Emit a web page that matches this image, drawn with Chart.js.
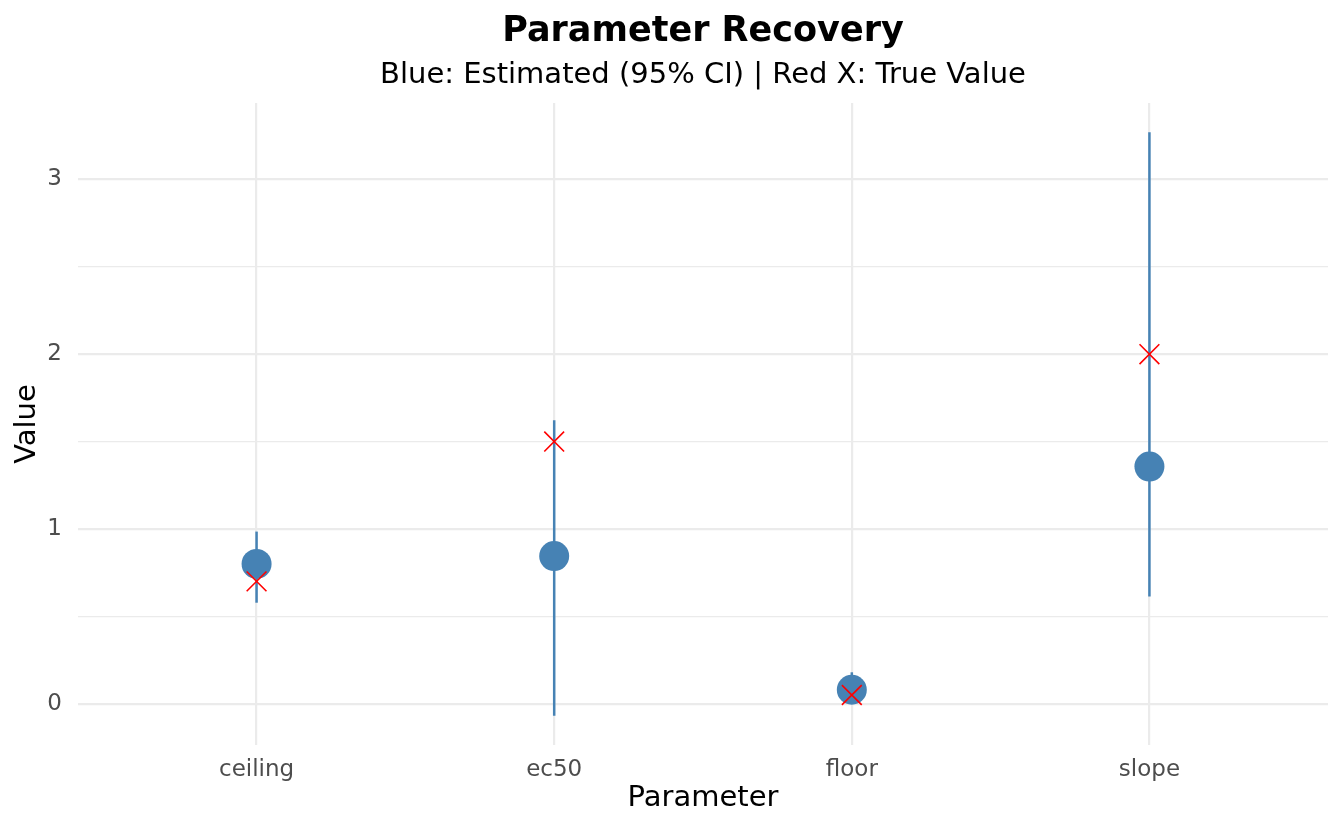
<!DOCTYPE html>
<html>
<head>
<meta charset="utf-8">
<script src="https://cdn.jsdelivr.net/npm/chart.js@4"></script>
<style>
  html, body { margin: 0; padding: 0; background: #fff; }
  #wrap { width: 1344px; height: 830px; }
</style>
</head>
<body>
<div id="wrap"><canvas id="grafica" width="1344" height="830"></canvas></div>
<script>
// datos
const parametros = ['ceiling', 'ec50', 'floor', 'slope'];
const estimados = [0.80, 0.845, 0.08, 1.357];
const ciInferior = [0.578, -0.069, 0.01, 0.613];
const ciSuperior = [0.985, 1.622, 0.18, 3.27];
const valoresReales = [0.70, 1.50, 0.05, 2.00];
const ticksY = [0, 0.5, 1, 1.5, 2, 2.5, 3];

const AZUL = '#4682b4';
const GRIS = '#ebebeb';
const FUENTE = 'DejaVu Sans';

// barras de error, una serie por parametro
const barras = parametros.map((p, i) => ({
    type: 'scatter',
    showLine: true,
    data: [{ x: i, y: ciInferior[i] }, { x: i, y: ciSuperior[i] }],
    borderColor: AZUL,
    borderWidth: 2.5,
    pointRadius: 0,
    order: 3
}));

const titulos = {
    id: 'titulos',
    afterDraw(chart) {
        const { ctx, chartArea } = chart;
        const cx = (chartArea.left + chartArea.right) / 2;
        ctx.save();
        ctx.fillStyle = '#000';
        ctx.textAlign = 'center';
        ctx.textBaseline = 'alphabetic';
        ctx.font = 'bold 35px "' + FUENTE + '"';
        ctx.fillText('Parameter Recovery', cx, 41);
        ctx.font = '29px "' + FUENTE + '"';
        ctx.fillText('Blue: Estimated (95% CI) | Red X: True Value', cx, 83);
        ctx.restore();
    }
};

function dibujarGrafica() {
    const ctx = document.getElementById('grafica').getContext('2d');
    new Chart(ctx, {
        type: 'scatter',
        data: {
            datasets: [
                ...barras,
                {
                    data: estimados.map((v, i) => ({ x: i, y: v })),
                    backgroundColor: AZUL,
                    borderWidth: 0,
                    pointRadius: 15,
                    pointHoverRadius: 15,
                    order: 2
                },
                {
                    data: valoresReales.map((v, i) => ({ x: i, y: v })),
                    pointStyle: 'crossRot',
                    borderColor: '#ff0000',
                    borderWidth: 1.6,
                    pointRadius: 14,
                    pointHoverRadius: 14,
                    order: 1
                }
            ]
        },
        options: {
            responsive: false,
            animation: false,
            layout: { padding: { top: 103, right: 16, left: 0, bottom: 0 } },
            plugins: { legend: { display: false }, tooltip: { enabled: false } },
            scales: {
                x: {
                    type: 'linear',
                    min: -0.6,
                    max: 3.6,
                    afterBuildTicks: s => { s.ticks = parametros.map((p, i) => ({ value: i })); },
                    afterFit: s => { s.height = 85; },
                    border: { display: false },
                    grid: { color: GRIS, lineWidth: 2.2, drawTicks: false },
                    ticks: {
                        padding: 11,
                        color: '#4d4d4d',
                        font: { family: FUENTE, size: 23 },
                        callback: v => parametros[v]
                    },
                    title: {
                        display: true,
                        text: 'Parameter',
                        color: '#000',
                        font: { family: FUENTE, size: 29 },
                        padding: { top: 0, bottom: 14 }
                    }
                },
                y: {
                    min: -0.236,
                    max: 3.437,
                    afterBuildTicks: s => { s.ticks = ticksY.map(v => ({ value: v })); },
                    afterFit: s => { s.width = 78; },
                    border: { display: false },
                    grid: {
                        color: GRIS,
                        lineWidth: c => (Number.isInteger(c.tick.value) ? 2.2 : 1.2),
                        drawTicks: false
                    },
                    ticks: {
                        padding: 16,
                        color: '#4d4d4d',
                        font: { family: FUENTE, size: 23 },
                        callback: v => (Number.isInteger(v) ? String(v) : '')
                    },
                    title: {
                        display: true,
                        text: 'Value',
                        color: '#000',
                        font: { family: FUENTE, size: 29 },
                        padding: { top: 10, bottom: 0 }
                    }
                }
            }
        },
        plugins: [titulos]
    });
}

document.addEventListener('DOMContentLoaded', dibujarGrafica);
</script>
</body>
</html>
